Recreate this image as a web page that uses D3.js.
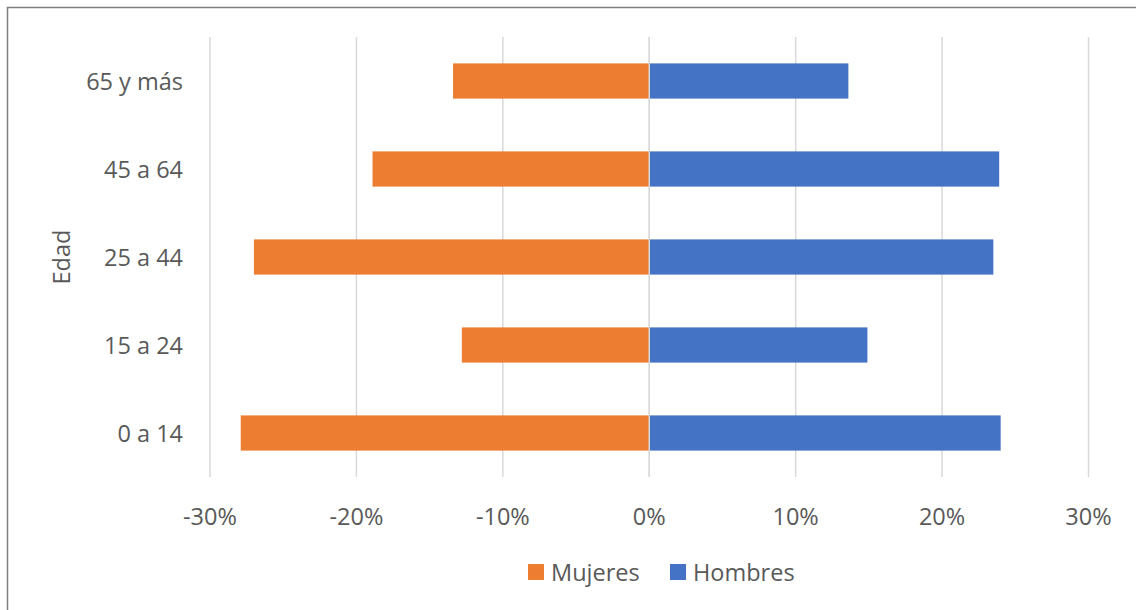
<!DOCTYPE html>
<html>
<head>
<meta charset="utf-8">
<script src="https://cdn.jsdelivr.net/npm/d3@7"></script>
<style>
  body { margin: 0; background: #fff; }
  text { font-family: "Open Sans", sans-serif; fill: #595959; }
</style>
</head>
<body>
<svg width="1136" height="610"></svg>
<script>
const categories = ["65 y más", "45 a 64", "25 a 44", "15 a 24", "0 a 14"];
const mujeres = [-13.4, -18.9, -27.0, -12.8, -27.9];
const hombres = [13.6, 23.9, 23.5, 14.9, 24.0];
const ticks = [-30, -20, -10, 0, 10, 20, 30];
const seriesNames = ["Mujeres", "Hombres"];
const colors = ["#ED7D31", "#4472C4"];

const svg = d3.select("svg"),
  width = +svg.attr("width"),
  height = +svg.attr("height");

// chart frame
svg.append("rect")
  .attr("x", 7.5).attr("y", 7.5)
  .attr("width", width).attr("height", height)
  .attr("fill", "none").attr("stroke", "#808080").attr("stroke-width", 1.5);

const x = d3.scaleLinear().domain([-30, 30]).range([210, 1088.5]);
const y = d3.scaleBand().domain(categories).range([37, 477]).paddingInner(0.6).paddingOuter(0.3);

// gridlines
svg.append("g")
  .selectAll("line")
  .data(ticks)
  .join("line")
  .attr("x1", d => x(d)).attr("x2", d => x(d))
  .attr("y1", 37).attr("y2", 477)
  .attr("stroke", "#D9D9D9").attr("stroke-width", 1.5);

const rows = categories.map((c, i) => ({ cat: c, m: mujeres[i], h: hombres[i] }));

svg.append("g")
  .selectAll("rect")
  .data(rows)
  .join("rect")
  .attr("x", d => x(d.m))
  .attr("y", d => y(d.cat))
  .attr("width", d => x(0) - x(d.m))
  .attr("height", y.bandwidth())
  .attr("fill", colors[0]);

svg.append("g")
  .selectAll("rect")
  .data(rows)
  .join("rect")
  .attr("x", x(0))
  .attr("y", d => y(d.cat))
  .attr("width", d => x(d.h) - x(0))
  .attr("height", y.bandwidth())
  .attr("fill", colors[1]);

// zero line on top
svg.append("line")
  .attr("x1", x(0)).attr("x2", x(0))
  .attr("y1", 37).attr("y2", 477)
  .attr("stroke", "#D9D9D9").attr("stroke-width", 1.5);

// x tick labels
svg.append("g")
  .selectAll("text")
  .data(ticks)
  .join("text")
  .attr("x", d => x(d))
  .attr("y", 525)
  .attr("text-anchor", "middle")
  .attr("font-size", 23.5)
  .text(d => d + "%");

// category labels
svg.append("g")
  .selectAll("text")
  .data(categories)
  .join("text")
  .attr("x", 183)
  .attr("y", d => y(d) + y.bandwidth() / 2 + 8.5)
  .attr("text-anchor", "end")
  .attr("font-size", 23.5)
  .text(d => d);

// axis title
svg.append("text")
  .attr("transform", "translate(70,257) rotate(-90)")
  .attr("text-anchor", "middle")
  .attr("font-size", 23.5)
  .text("Edad");

// legend
const legendX = [528, 670];
const legend = svg.append("g")
  .selectAll("g")
  .data(seriesNames)
  .join("g")
  .attr("transform", (d, i) => `translate(${legendX[i]},564)`);
legend.append("rect")
  .attr("width", 16).attr("height", 16)
  .attr("fill", (d, i) => colors[i]);
legend.append("text")
  .attr("x", 23).attr("y", 16.5)
  .attr("font-size", 23.5)
  .text(d => d);
</script>
</body>
</html>
